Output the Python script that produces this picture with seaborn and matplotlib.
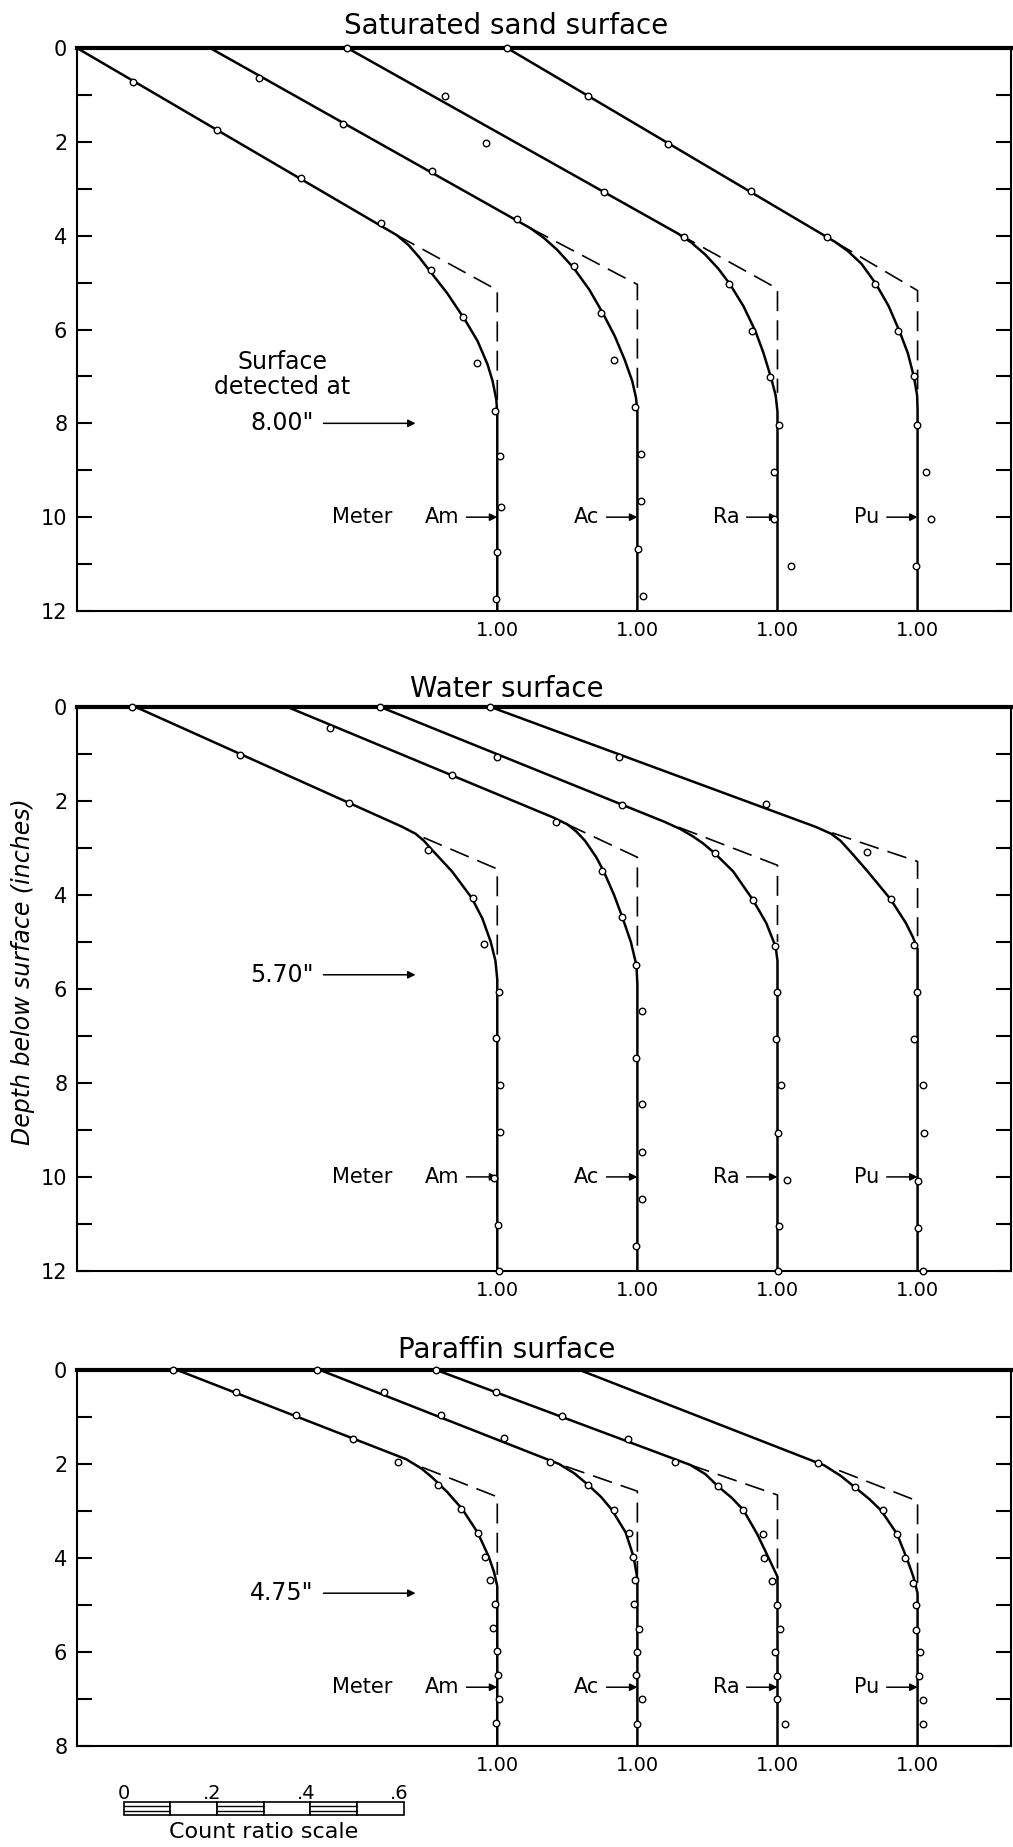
import numpy as np
import pandas as pd
import matplotlib
matplotlib.use("Agg")
import matplotlib.pyplot as plt
import matplotlib.transforms as mtransforms
from matplotlib.patches import Rectangle
import seaborn as sns

# ---- values --------------------------------------------------------------
sources = ["Am", "Ac", "Ra", "Pu"]
offsets = [0.0, 0.3, 0.6, 0.9]      # each curve shifted right by 0.3 count ratio

titles = ["Saturated sand surface", "Water surface", "Paraffin surface"]
max_depth = [12, 12, 8]
source_label_depth = [10.0, 10.0, 6.75]
detected_depth = [8.0, 5.7, 4.75]
detected_text = ['8.00"', '5.70"', '4.75"']

# measured points: (depth in inches, count ratio)
sand_pts = {
    "Am": ([0.73, 1.75, 2.76, 3.73, 4.74, 5.74, 6.72, 7.74, 8.70, 9.78, 10.75, 11.74],
           [0.22, 0.40, 0.58, 0.75, 0.857, 0.927, 0.957, 0.996, 1.006, 1.009, 1.000, 0.998]),
    "Ac": ([0.63, 1.63, 2.63, 3.65, 4.65, 5.65, 6.65, 7.65, 8.65, 9.65, 10.67, 11.67],
           [0.19, 0.37, 0.56, 0.743, 0.865, 0.922, 0.951, 0.995, 1.007, 1.007, 1.001, 1.013]),
    "Ra": ([0.0, 1.02, 2.03, 3.06, 4.02, 5.03, 6.04, 7.02, 8.03, 9.04, 10.04, 11.04],
           [0.079, 0.289, 0.376, 0.628, 0.80, 0.896, 0.945, 0.984, 1.004, 0.993, 0.993, 1.028]),
    "Pu": ([0.0, 1.03, 2.04, 3.04, 4.02, 5.03, 6.03, 7.0, 8.03, 9.04, 10.04, 11.04],
           [0.121, 0.294, 0.466, 0.644, 0.806, 0.909, 0.958, 0.993, 0.999, 1.018, 1.029, 0.996]),
}
water_pts = {
    "Am": ([0.0, 1.03, 2.04, 3.04, 4.06, 5.04, 6.07, 7.05, 8.04, 9.04, 10.03, 11.03, 12.0],
           [0.218, 0.45, 0.682, 0.852, 0.949, 0.972, 1.004, 0.997, 1.005, 1.006, 0.994, 1.001, 1.003]),
    "Ac": ([0.45, 1.46, 2.45, 3.5, 4.48, 5.49, 6.47, 7.46, 8.45, 9.47, 10.46, 11.46],
           [0.342, 0.604, 0.826, 0.925, 0.966, 0.996, 1.009, 0.998, 1.009, 1.009, 1.009, 0.998]),
    "Ra": ([0.0, 1.06, 2.08, 3.1, 4.1, 5.08, 6.07, 7.06, 8.05, 9.07, 10.06, 11.05, 12.0],
           [0.149, 0.40, 0.666, 0.866, 0.947, 0.995, 1.0, 0.996, 1.007, 1.001, 1.020, 1.004, 1.001]),
    "Pu": ([0.0, 1.06, 2.07, 3.09, 4.09, 5.06, 6.07, 7.07, 8.05, 9.07, 10.08, 11.09, 12.0],
           [0.085, 0.36, 0.675, 0.892, 0.944, 0.993, 0.998, 0.992, 1.011, 1.013, 1.001, 1.001, 1.011]),
}
paraffin_pts = {
    "Am": ([0.0, 0.47, 0.96, 1.47, 1.96, 2.45, 2.96, 3.46, 3.98, 4.46, 4.97, 5.49, 5.99, 6.5, 7.0, 7.51],
           [0.305, 0.44, 0.57, 0.692, 0.787, 0.873, 0.922, 0.958, 0.973, 0.984, 0.996, 0.991, 0.999, 1.001, 1.003, 0.997]),
    "Ac": ([0.0, 0.46, 0.96, 1.44, 1.96, 2.45, 2.97, 3.46, 3.98, 4.47, 4.98, 5.51, 6.01, 6.5, 7.0, 7.53],
           [0.314, 0.457, 0.579, 0.715, 0.813, 0.895, 0.95, 0.983, 0.991, 0.994, 0.993, 1.004, 0.999, 0.996, 1.009, 0.999]),
    "Ra": ([0.0, 0.46, 0.97, 1.46, 1.96, 2.48, 2.98, 3.5, 4.01, 4.5, 5.01, 5.51, 6.01, 6.51, 7.01, 7.53],
           [0.269, 0.398, 0.539, 0.68, 0.78, 0.873, 0.927, 0.97, 0.972, 0.988, 1.0, 1.005, 0.994, 1.0, 1.0, 1.017]),
    "Pu": ([1.98, 2.49, 2.99, 3.49, 4.01, 4.53, 5.01, 5.53, 6.01, 6.51, 7.03, 7.53],
           [0.786, 0.865, 0.925, 0.956, 0.974, 0.991, 0.996, 0.996, 1.005, 1.002, 1.011, 1.011]),
}

# fitted solid curves
sand_fit = {
    "Am": ([0, 3.99, 4.2, 4.45, 4.77, 5.23, 5.78, 6.25, 6.74, 7.1, 7.5, 7.8, 12],
           [0.10, 0.785, 0.81, 0.832, 0.857, 0.893, 0.930, 0.958, 0.979, 0.990, 0.998, 1.0, 1.0]),
    "Ac": ([0, 3.84, 4.05, 4.3, 4.68, 5.15, 5.65, 6.15, 6.65, 7.1, 7.45, 7.75, 12],
           [0.085, 0.771, 0.80, 0.828, 0.863, 0.897, 0.926, 0.952, 0.973, 0.989, 0.997, 1.0, 1.0]),
    "Ra": ([0, 3.95, 4.15, 4.4, 4.7, 5.03, 5.5, 6.04, 6.5, 7.02, 7.4, 7.75, 12],
           [0.079, 0.786, 0.816, 0.845, 0.873, 0.898, 0.927, 0.953, 0.970, 0.986, 0.996, 1.0, 1.0]),
    "Pu": ([0, 4.13, 4.33, 4.6, 5.03, 5.5, 6.03, 6.5, 7.0, 7.4, 7.7, 12],
           [0.121, 0.823, 0.851, 0.880, 0.911, 0.938, 0.961, 0.979, 0.992, 0.999, 1.0, 1.0]),
}
water_fit = {
    "Am": ([0, 2.55, 2.7, 2.85, 3.04, 3.5, 4.06, 4.5, 5.0, 5.4, 5.8, 12],
           [0.225, 0.796, 0.825, 0.843, 0.86, 0.903, 0.945, 0.968, 0.986, 0.996, 1.0, 1.0]),
    "Ac": ([0, 2.35, 2.5, 2.65, 2.85, 3.2, 3.5, 4.0, 4.48, 5.0, 5.5, 5.9, 12],
           [0.25, 0.819, 0.85, 0.869, 0.888, 0.912, 0.928, 0.95, 0.968, 0.986, 0.998, 1.0, 1.0]),
    "Ra": ([0, 2.45, 2.6, 2.75, 2.9, 3.1, 3.5, 4.1, 4.6, 5.1, 5.4, 12],
           [0.149, 0.759, 0.792, 0.818, 0.84, 0.864, 0.905, 0.947, 0.976, 0.996, 1.0, 1.0]),
    "Pu": ([0, 2.55, 2.7, 2.85, 3.1, 3.5, 4.09, 4.6, 4.9, 5.15, 12],
           [0.085, 0.781, 0.815, 0.835, 0.858, 0.893, 0.942, 0.975, 0.990, 1.0, 1.0]),
}
paraffin_fit = {
    "Am": ([0, 1.9, 2.1, 2.3, 2.6, 2.96, 3.46, 3.98, 4.3, 4.6, 8],
           [0.314, 0.805, 0.838, 0.862, 0.893, 0.925, 0.958, 0.982, 0.993, 1.0, 1.0]),
    "Ac": ([0, 2.0, 2.2, 2.45, 2.7, 2.97, 3.46, 3.98, 4.44, 8],
           [0.32, 0.832, 0.865, 0.895, 0.922, 0.945, 0.975, 0.992, 1.0, 1.0]),
    "Ra": ([0, 2.02, 2.22, 2.48, 2.72, 2.98, 3.5, 4.0, 4.4, 8],
           [0.269, 0.813, 0.846, 0.873, 0.902, 0.927, 0.957, 0.981, 1.0, 1.0]),
    "Pu": ([0, 2.03, 2.25, 2.49, 2.75, 2.99, 3.49, 4.01, 4.4, 4.75, 8],
           [0.276, 0.80, 0.835, 0.865, 0.897, 0.922, 0.956, 0.977, 0.991, 1.0, 1.0]),
}

# dashed extrapolation of the straight part
sand_dash = {"Am": ([3.99, 5.16, 7.5], [0.785, 1.0, 1.0]),
             "Ac": ([3.84, 5.04, 7.43], [0.771, 1.0, 1.0]),
             "Ra": ([3.95, 5.13, 7.35], [0.786, 1.0, 1.0]),
             "Pu": ([4.13, 5.17, 7.3], [0.823, 1.0, 1.0])}
water_dash = {"Am": ([2.78, 3.45, 5.46], [0.842, 1.0, 1.0]),
              "Ac": ([2.5, 3.2, 5.28], [0.85, 1.0, 1.0]),
              "Ra": ([2.56, 3.37, 5.0], [0.788, 1.0, 1.0]),
              "Pu": ([2.68, 3.29, 4.88], [0.817, 1.0, 1.0])}
paraffin_dash = {"Am": ([2.07, 2.7, 4.36], [0.839, 1.0, 1.0]),
                 "Ac": ([2.05, 2.58, 4.36], [0.846, 1.0, 1.0]),
                 "Ra": ([2.02, 2.66, 4.44], [0.813, 1.0, 1.0]),
                 "Pu": ([2.14, 2.79, 4.59], [0.832, 1.0, 1.0])}

scale_ticks = [0, 0.2, 0.4, 0.6]

points = [sand_pts, water_pts, paraffin_pts]
fits = [sand_fit, water_fit, paraffin_fit]
dashes = [sand_dash, water_dash, paraffin_dash]

# ---- drawing ----------------------------------------------------------------
sns.set_theme(style="ticks", rc={"axes.edgecolor": "black", "xtick.color": "black",
                                 "ytick.color": "black", "text.color": "black"})
plt.rcParams["font.family"] = ["DejaVu Sans"]

fig = plt.figure(figsize=(10.13, 18.47), dpi=100)
boxes = [[0.076, 0.6692, 0.922, 0.3048],
         [0.076, 0.3119, 0.922, 0.3054],
         [0.076, 0.0547, 0.922, 0.2036]]
title_pad = [16, 12.5, 14]
arrow = dict(arrowstyle="-|>", color="black", lw=1.1, mutation_scale=11, shrinkA=3, shrinkB=0)

axes = []
for i, box in enumerate(boxes):
    ax = fig.add_axes(box)
    axes.append(ax)
    for src, off in zip(sources, offsets):
        d, r = fits[i][src]
        sns.lineplot(x=np.array(r) + off, y=d, sort=False, estimator=None, orient="y",
                     color="black", lw=1.8, ax=ax)
        d, r = dashes[i][src]
        sns.lineplot(x=np.array(r) + off, y=d, sort=False, estimator=None, orient="y",
                     color="black", lw=1.2, linestyle=(0, (12, 5.5)), ax=ax)
        d, r = points[i][src]
        sns.scatterplot(x=np.array(r) + off, y=d, s=22, marker="o", color="white",
                        edgecolor="black", linewidth=1.0, zorder=5, clip_on=False, ax=ax)
        # source label with arrow to its 1.00 line
        ax.annotate(src, xy=(off + 1.0, source_label_depth[i]),
                    xytext=(off + 0.918, source_label_depth[i]), ha="right", va="center",
                    fontsize=15, arrowprops=arrow)
    ax.text(0.775, source_label_depth[i], "Meter", ha="right", va="center", fontsize=15)

    ax.annotate(detected_text[i], xy=(0.825, detected_depth[i]),
                xytext=(0.606, detected_depth[i]), ha="right", va="center",
                fontsize=17, arrowprops=dict(arrow, shrinkA=5))
    if i == 0:
        ax.text(0.54, 6.7, "Surface", ha="center", va="center", fontsize=17)
        ax.text(0.54, 7.22, "detected at", ha="center", va="center", fontsize=17)

    ax.annotate(titles[i], xy=(1.02, 1), xycoords=("data", "axes fraction"),
                xytext=(0, title_pad[i]), textcoords="offset points",
                ha="center", va="center", fontsize=20)

    ax.set_xlim(0.1, 2.1)
    ax.set_ylim(max_depth[i], 0)
    ax.set_yticks(range(0, max_depth[i] + 1, 2))
    ax.set_yticks(range(0, max_depth[i] + 1), minor=True)
    ax.set_xticks([off + 1.0 for off in offsets], ["1.00"] * 4)
    ax.tick_params(axis="y", which="both", direction="in", length=11, width=1.5,
                   left=True, right=True, labelsize=15, pad=7)
    ax.tick_params(axis="x", length=0, labelsize=14, pad=7)
    ax.set_xlabel("")
    ax.set_ylabel("")
    for name, sp in ax.spines.items():
        sp.set_visible(True)
        sp.set_linewidth(3.0 if name == "top" else 1.5)

fig.text(0.0227, 0.474, "Depth below surface (inches)", rotation=90, ha="center",
         va="center", fontsize=17, style="italic")

# count ratio scale bar under the bottom panel
ax = axes[2]
trans = mtransforms.blended_transform_factory(ax.transData, fig.transFigure)
origin = 0.2
y0, h = 0.0173, 0.0071
for k in range(6):
    x0 = origin + k * 0.1
    ax.add_patch(Rectangle((x0, y0), 0.1, h, transform=trans, facecolor="white",
                           edgecolor="black", lw=1.2, clip_on=False))
    if k % 2 == 0:
        for f in (1 / 3, 2 / 3):
            ax.plot([x0, x0 + 0.1], [y0 + f * h, y0 + f * h], transform=trans,
                    color="black", lw=1.0, clip_on=False)
for v in scale_ticks:
    lab = "0" if v == 0 else ("%.1f" % v).lstrip("0")
    shift = 0 if v == 0 else -0.01
    ax.text(origin + v + shift, 0.0292, lab, transform=trans, ha="center", va="center",
            fontsize=14)
ax.text(origin + 0.3, 0.0083, "Count ratio scale", transform=trans, ha="center",
        va="center", fontsize=16)

fig.savefig("out.png", dpi=100, facecolor="white")
